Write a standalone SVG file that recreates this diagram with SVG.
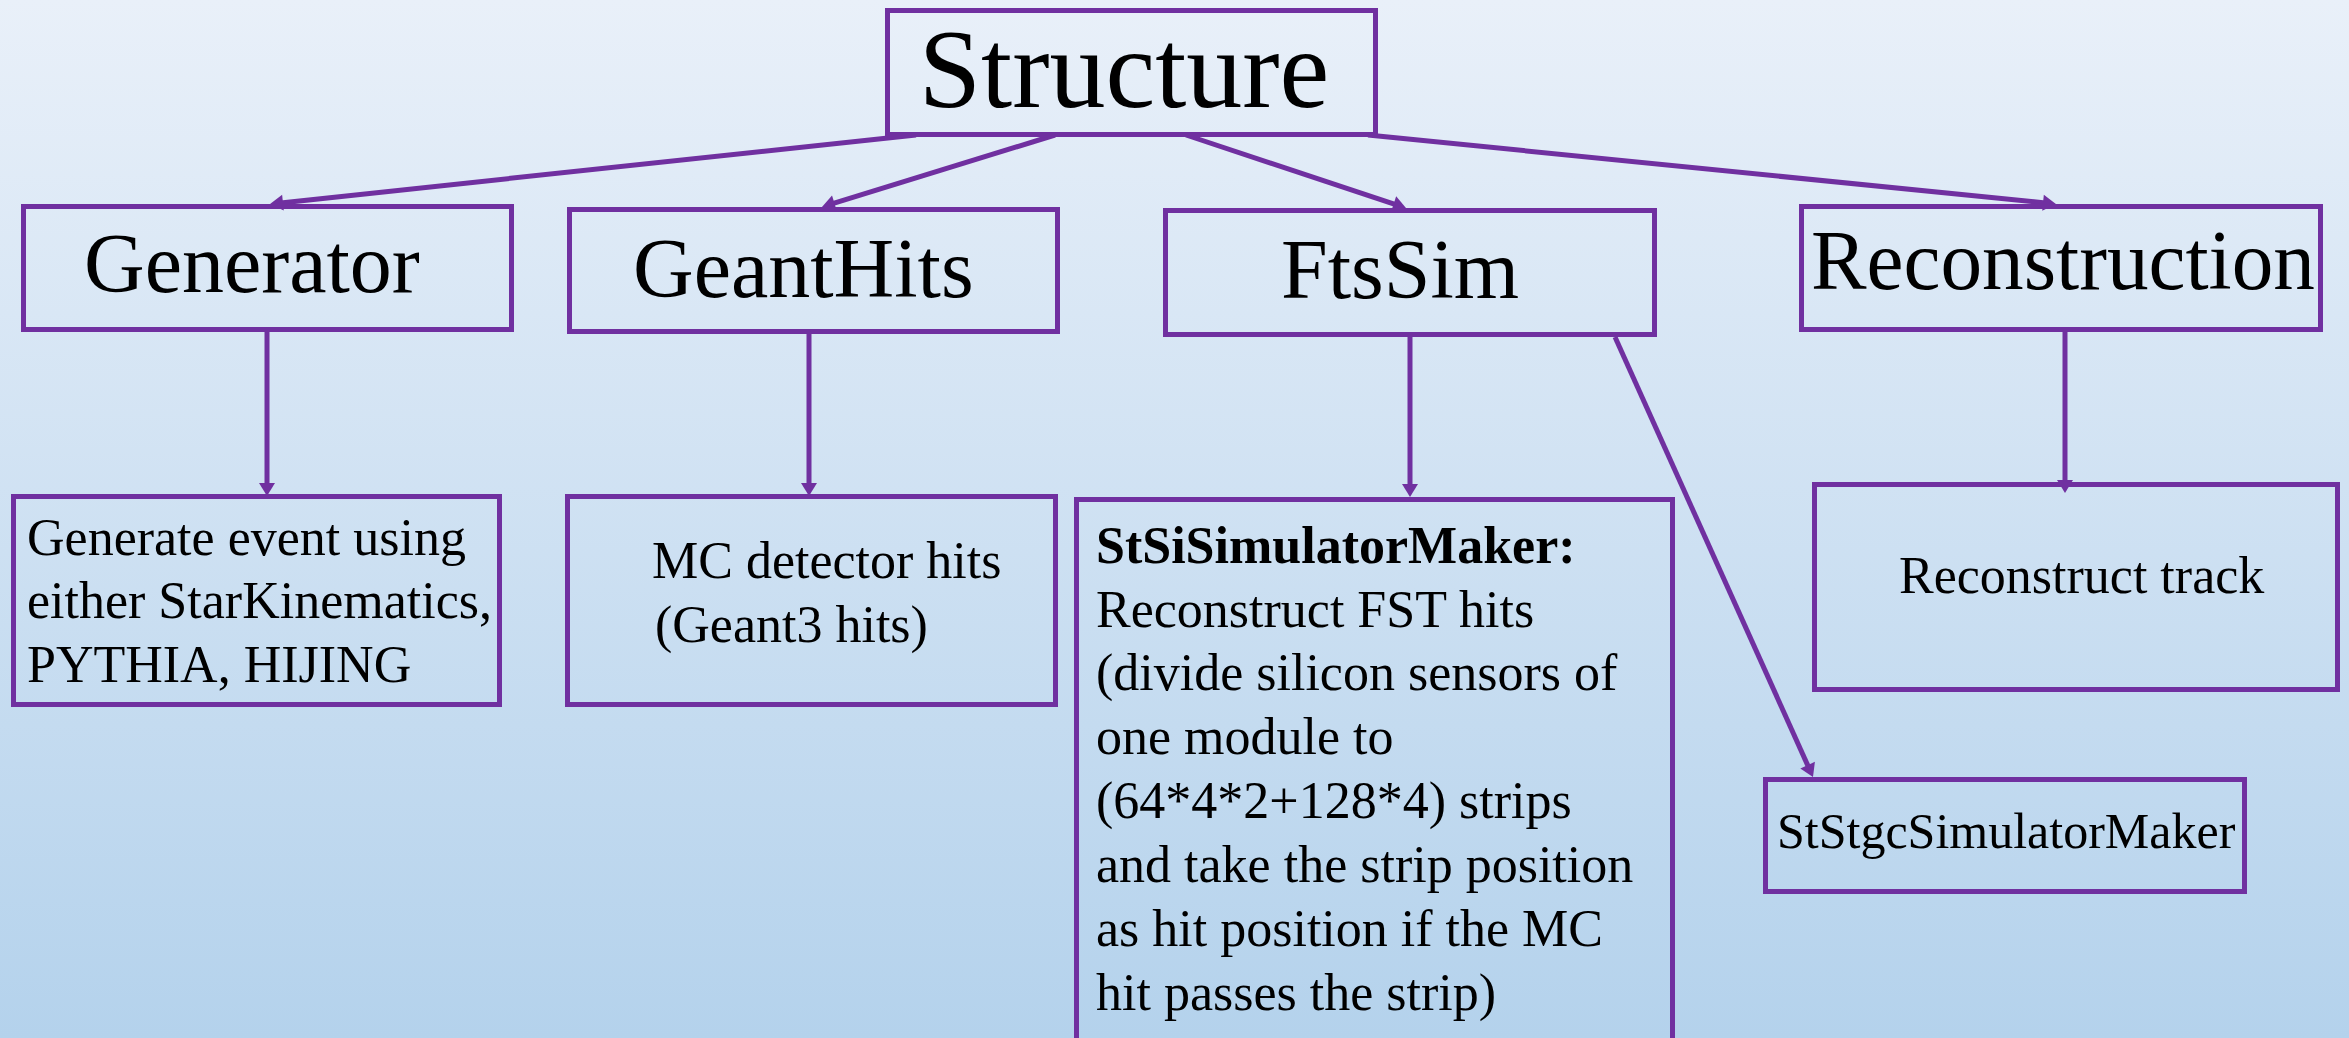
<svg xmlns="http://www.w3.org/2000/svg" width="2349" height="1038" viewBox="0 0 2349 1038">
  <defs>
    <linearGradient id="bg" x1="0" y1="0" x2="0" y2="1">
      <stop offset="0" stop-color="#E9F0F9"/>
      <stop offset="1" stop-color="#B4D2EC"/>
    </linearGradient>
    <marker id="arrow" markerUnits="userSpaceOnUse" markerWidth="20" markerHeight="20" refX="0" refY="0" orient="auto" overflow="visible">
      <path d="M6,0 L-7,-8 L-7,8 Z" fill="#7030A0"/>
    </marker>
    <style>
      .box { fill: none; stroke: #7030A0; stroke-width: 5; }
      .link { fill: none; stroke: #7030A0; stroke-width: 5; marker-end: url(#arrow); }
      text { font-family: 'Liberation Serif', 'Times New Roman', 'DejaVu Serif', serif; fill: #000; }
      .head { font-size: 84px; }
      .body { font-size: 52px; }
    </style>
  </defs>

  <rect x="0" y="0" width="2349" height="1038" fill="url(#bg)"/>

  <!-- connectors -->
  <g id="connectors">
    <line class="link" x1="916" y1="135" x2="276" y2="203.4"/>
    <line class="link" x1="1055" y1="135" x2="827.7" y2="205.2"/>
    <line class="link" x1="1186" y1="135" x2="1400.3" y2="206.1"/>
    <line class="link" x1="1368" y1="135" x2="2050" y2="203.4"/>
    <line class="link" x1="267" y1="332" x2="267" y2="490"/>
    <line class="link" x1="809" y1="334" x2="809" y2="490"/>
    <line class="link" x1="1410" y1="337" x2="1410" y2="491"/>
    <line class="link" x1="1615" y1="337" x2="1810.5" y2="771.5"/>
    <line class="link" x1="2065" y1="332" x2="2065" y2="487"/>
  </g>

  <g font-family="Liberation Serif, Times New Roman, DejaVu Serif, serif">
  <!-- top level -->
  <g id="structure">
    <rect class="box" x="887.5" y="10.5" width="488" height="124"/>
    <text x="1124" y="107" font-size="112" text-anchor="middle">Structure</text>
  </g>

  <!-- stages -->
  <g id="generator">
    <rect class="box" x="23.5" y="206.5" width="488" height="123"/>
    <text class="head" x="84" y="292">Generator</text>
  </g>
  <g id="geanthits">
    <rect class="box" x="569.5" y="209.5" width="488" height="122"/>
    <text class="head" x="633" y="297">GeantHits</text>
  </g>
  <g id="ftssim">
    <rect class="box" x="1165.5" y="210.5" width="489" height="124"/>
    <text class="head" x="1281" y="298">FtsSim</text>
  </g>
  <g id="reconstruction">
    <rect class="box" x="1801.5" y="206.5" width="519" height="123"/>
    <text class="head" x="1811" y="289" textLength="504" lengthAdjust="spacingAndGlyphs">Reconstruction</text>
  </g>

  <!-- details -->
  <g id="generate-event">
    <rect class="box" x="13.5" y="496.5" width="486" height="208"/>
    <text class="body" x="27" y="555">Generate event using</text>
    <text class="body" x="27" y="618">either StarKinematics,</text>
    <text class="body" x="27" y="682">PYTHIA, HIJING</text>
  </g>
  <g id="mc-hits">
    <rect class="box" x="567.5" y="496.5" width="488" height="208"/>
    <text class="body" x="652" y="578">MC detector hits</text>
    <text class="body" x="655" y="642">(Geant3 hits)</text>
  </g>
  <g id="stsi-simulator">
    <rect class="box" x="1076.5" y="499.5" width="596" height="560"/>
    <text class="body" x="1096" y="563" font-weight="bold">StSiSimulatorMaker:</text>
    <text class="body" x="1096" y="627">Reconstruct FST hits</text>
    <text class="body" x="1096" y="690">(divide silicon sensors of</text>
    <text class="body" x="1096" y="754">one module to</text>
    <text class="body" x="1096" y="818">(64*4*2+128*4) strips</text>
    <text class="body" x="1096" y="882">and take the strip position</text>
    <text class="body" x="1096" y="946">as hit position if  the MC</text>
    <text class="body" x="1096" y="1010">hit passes the strip)</text>
  </g>
  <g id="reconstruct-track">
    <rect class="box" x="1814.5" y="484.5" width="523" height="205"/>
    <text class="body" x="1899" y="593">Reconstruct track</text>
  </g>
  <g id="ststgc-simulator">
    <rect class="box" x="1765.5" y="779.5" width="479" height="112"/>
    <text x="1777" y="848" font-size="50">StStgcSimulatorMaker</text>
  </g>
  </g>
</svg>
